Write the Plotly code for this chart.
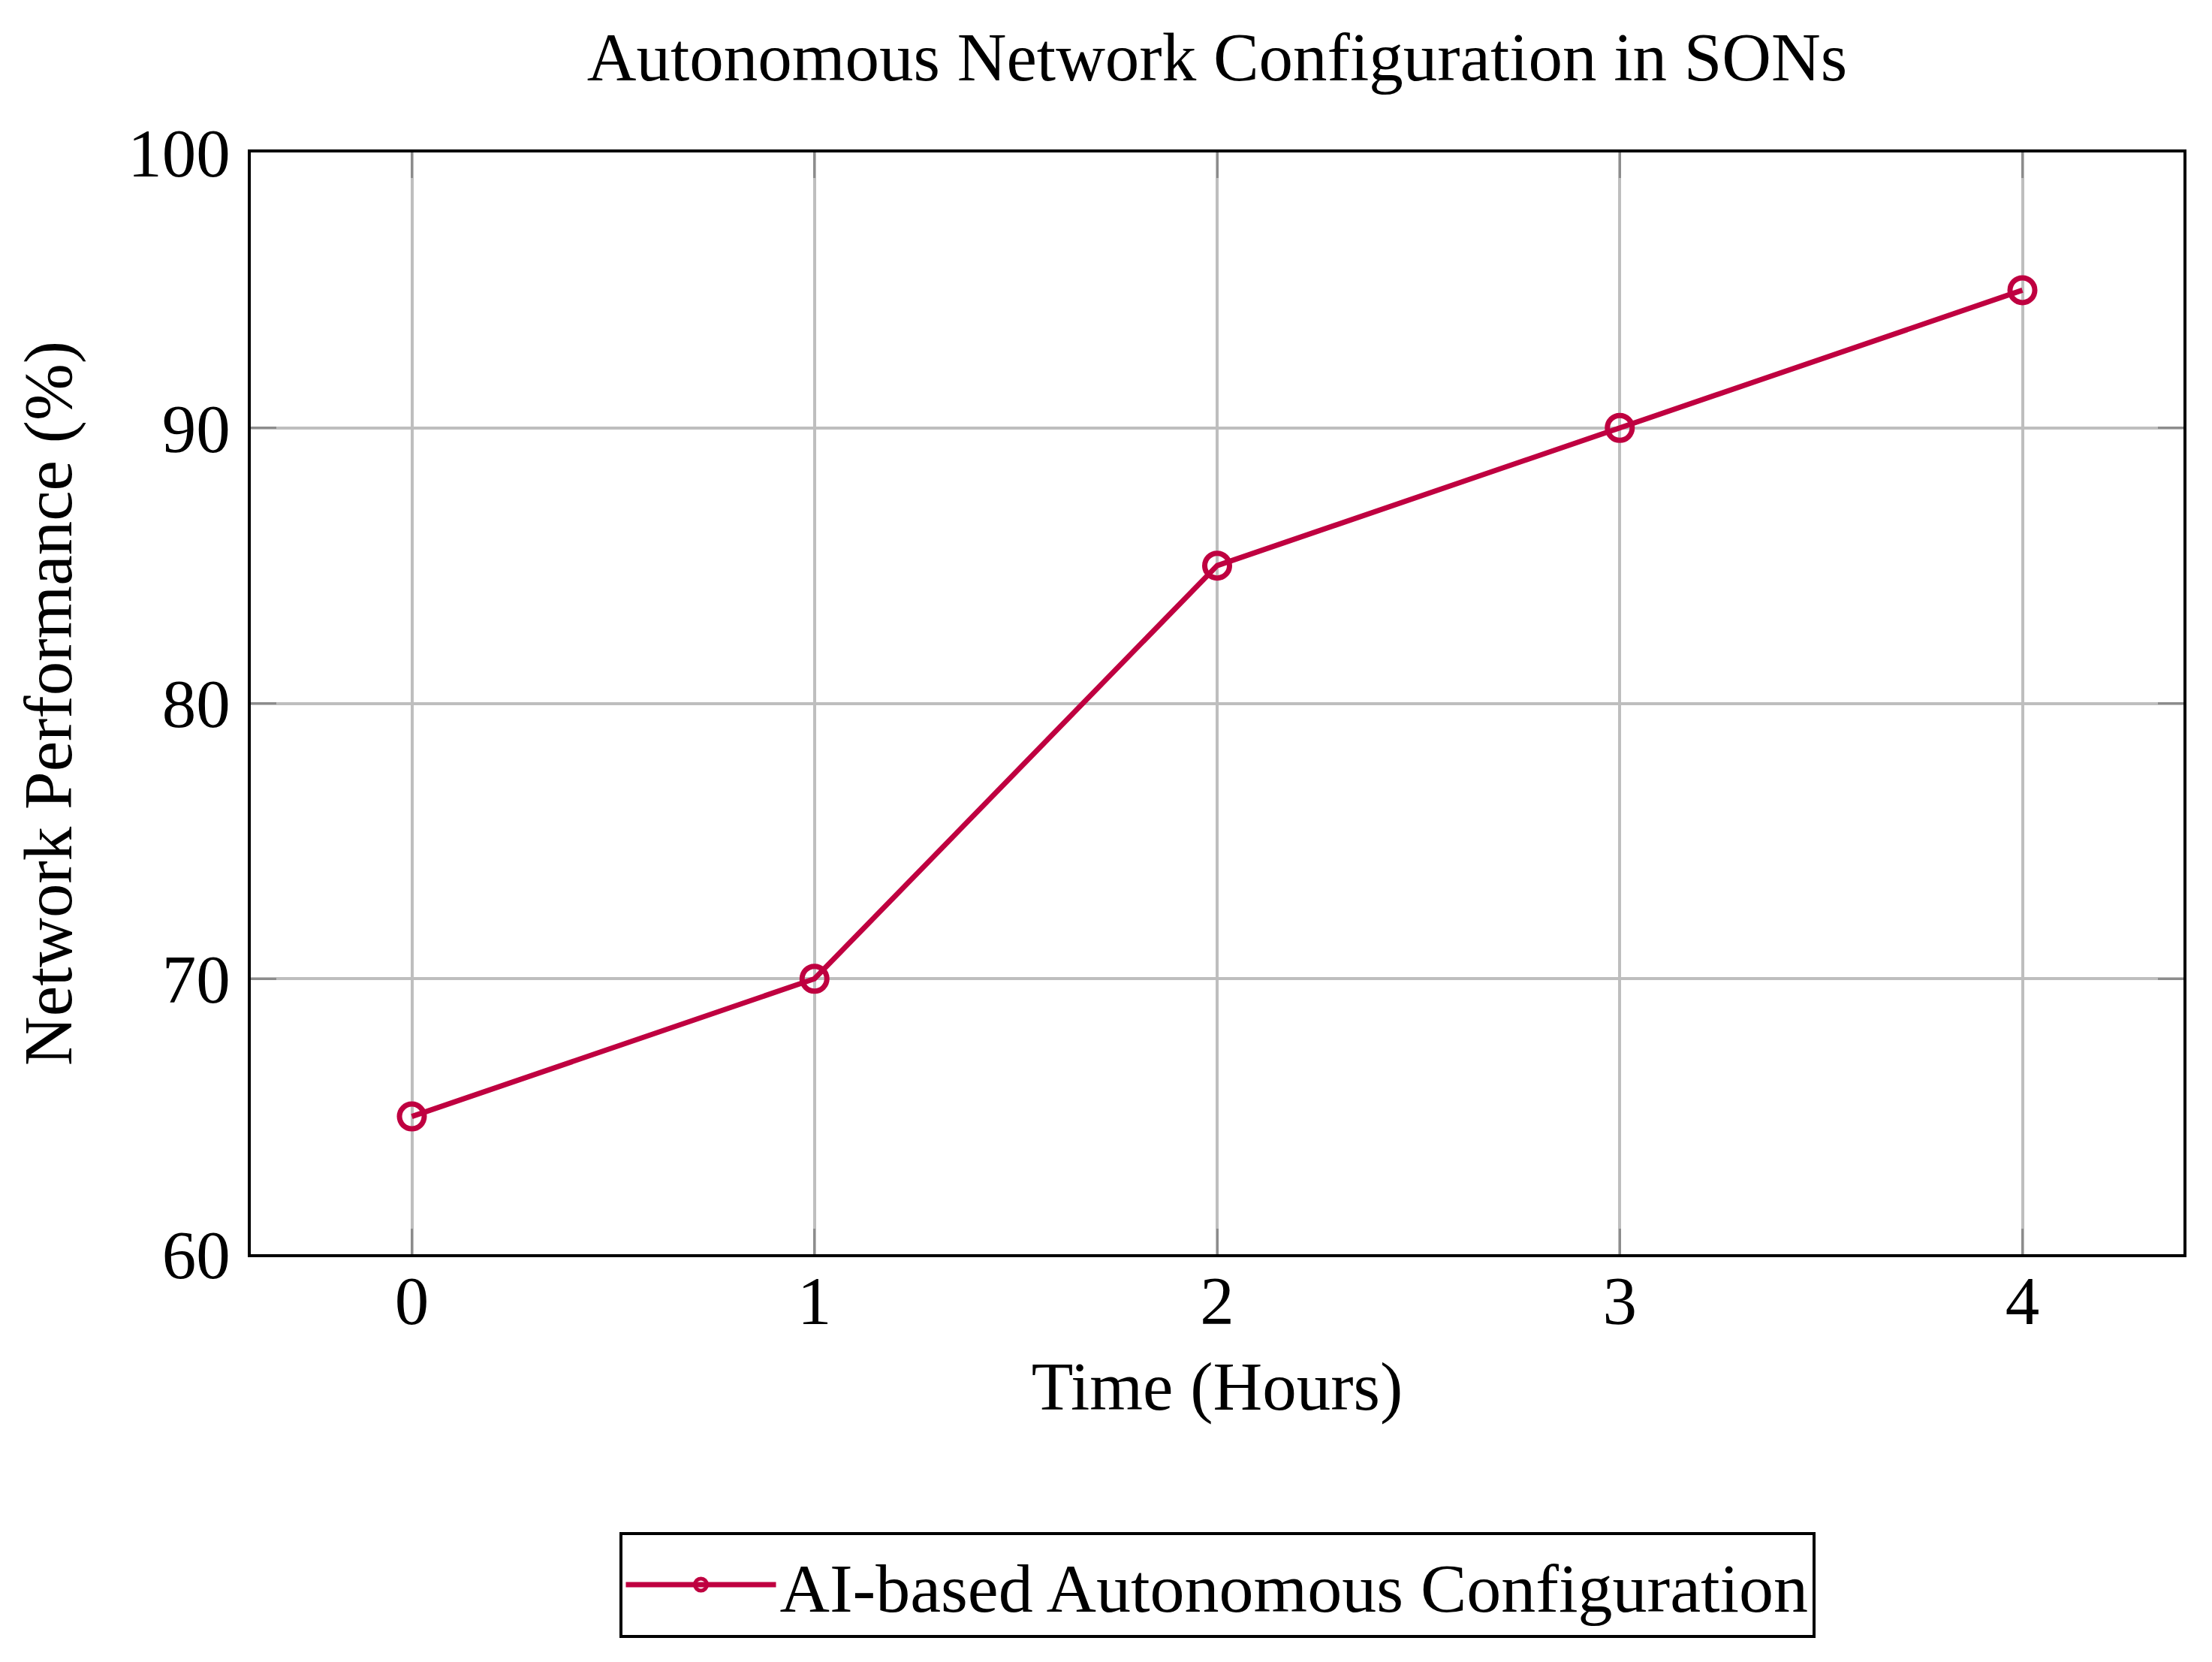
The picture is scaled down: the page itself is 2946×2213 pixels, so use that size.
import plotly.graph_objects as go

# data
hours = [0, 1, 2, 3, 4]
performance = [65, 70, 85, 90, 95]
series_name = "AI-based Autonomous Configuration"

x_ticks = [0, 1, 2, 3, 4]
y_ticks = [60, 70, 80, 90, 100]

red = "#BF0040"
font_name = "Liberation Serif"
fs = 91

fig = go.Figure()
fig.add_trace(go.Scatter(
    x=hours, y=performance, name=series_name,
    mode="lines+markers",
    line=dict(color=red, width=7),
    marker=dict(symbol="circle-open", size=33, color=red, line=dict(width=7, color=red)),
))

axis_common = dict(
    showline=True, linecolor="black", linewidth=4, mirror="all",
    showgrid=True, gridcolor="#BEBEBE", gridwidth=4,
    ticks="inside", ticklen=34, tickwidth=3, tickcolor="#8C8C8C",
    tickfont=dict(family=font_name, size=fs, color="black"),
    zeroline=False,
)

fig.update_xaxes(
    range=[-0.4, 4.4], tickvals=x_ticks,
    title=dict(text="Time (Hours)", font=dict(family=font_name, size=fs, color="black"), standoff=32),
    ticklabelstandoff=-20,
    **axis_common,
)
fig.update_yaxes(
    range=[60, 100], tickvals=y_ticks,
    title=dict(text="Network Performance (%)", font=dict(family=font_name, size=fs, color="black"), standoff=45),
    ticklabelstandoff=5,
    **axis_common,
)

fig.update_layout(
    width=2946, height=2213,
    margin=dict(l=326, r=46, t=195, b=551),
    paper_bgcolor="white", plot_bgcolor="white",
    font=dict(family=font_name, size=fs, color="black"),
    title=dict(text="Autonomous Network Configuration in SONs", x=0.5, xref="paper", xanchor="center",
               y=1 - 67 / 2213, yanchor="middle", font=dict(family=font_name, size=fs)),
    showlegend=True,
    legend=dict(x=0.5, xanchor="center", y=-0.252, yanchor="top", orientation="h",
                bordercolor="black", borderwidth=4, bgcolor="white",
                font=dict(family=font_name, size=92), itemwidth=200),
)

fig.write_html("out.html")
